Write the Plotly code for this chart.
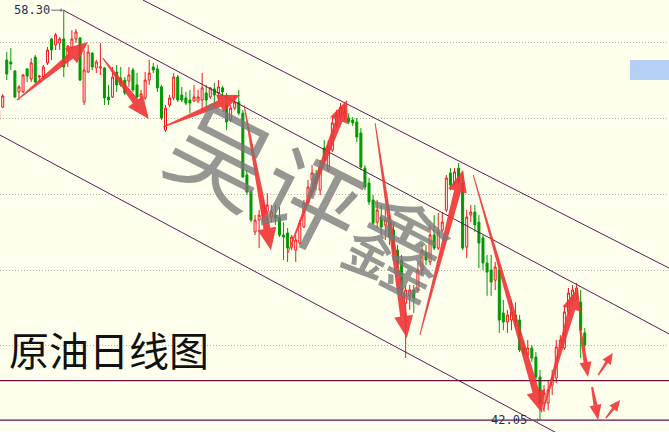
import plotly.graph_objects as go
import math

# ---------------- data (prices, USD) ----------------
opens = [53.95, 54.46, 56.33, 56.25, 55.89, 55.06, 55.06, 55.97, 55.57, 56.44,
         55.65, 55.65, 56.21, 57.16, 56.92, 57.00, 57.16, 56.44, 56.80, 57.16,
         57.20, 54.66, 55.85, 56.60, 56.01, 56.01, 56.01, 54.86, 54.86, 55.85,
         55.61, 55.53, 55.49, 55.93, 55.34, 54.86, 54.82, 55.53, 56.05, 55.97,
         55.26, 53.55, 54.54, 54.82, 55.65, 54.94, 54.82, 54.74, 54.70, 54.70,
         54.74, 55.02, 54.86, 55.18, 55.02, 55.22, 54.54, 53.95, 54.42, 54.66,
         54.22, 51.77, 51.09, 49.51, 49.98, 50.18, 50.30, 50.10, 50.18, 50.10,
         49.39, 49.47, 48.91, 48.79, 49.07, 49.71, 50.66, 51.57, 51.69, 51.17,
         52.84, 51.97, 52.76, 53.75, 54.07, 54.14, 54.03, 53.95, 53.87, 53.43,
         52.04, 51.45, 50.78, 49.90, 50.06, 49.79, 49.90, 49.59, 48.79, 48.40,
         46.69, 46.98, 47.21, 47.21, 48.00, 48.68, 48.32, 49.39, 48.87, 49.59,
         50.38, 51.85, 51.45, 52.04, 51.45, 48.91, 50.18, 50.30, 49.90, 49.27,
         48.28, 48.00, 47.60, 48.00, 46.30, 45.94, 46.02, 46.22, 46.02, 44.95,
         44.63, 44.91, 44.55, 43.76, 42.73, 42.73, 43.44, 43.72, 44.91, 44.91,
         46.34, 46.81, 47.01, 46.73, 45.51]
highs = [54.50, 54.98, 56.64, 56.80, 55.93, 55.34, 55.77, 56.01, 56.40, 56.52,
         55.73, 56.13, 56.84, 57.20, 57.40, 57.24, 58.30, 56.92, 57.51, 57.55,
         57.24, 56.72, 56.92, 56.64, 56.33, 57.00, 56.05, 55.34, 56.05, 56.13,
         56.05, 55.65, 56.05, 56.01, 55.81, 55.14, 55.85, 56.33, 56.21, 56.13,
         55.34, 54.54, 54.94, 55.81, 55.73, 55.26, 55.06, 55.14, 55.34, 55.14,
         55.81, 55.34, 55.26, 55.41, 55.53, 55.30, 55.02, 54.54, 54.94, 55.14,
         54.34, 51.97, 51.17, 50.18, 50.38, 50.78, 51.05, 50.58, 50.58, 50.50,
         49.90, 49.67, 49.39, 49.39, 49.98, 50.78, 51.57, 52.16, 51.97, 52.36,
         53.15, 53.15, 54.07, 54.34, 54.62, 54.54, 54.22, 54.07, 54.03, 53.63,
         52.16, 51.65, 50.97, 50.78, 50.58, 50.38, 50.18, 49.90, 48.99, 48.60,
         47.41, 47.41, 47.41, 48.32, 48.99, 48.99, 49.79, 50.18, 50.26, 50.30,
         51.77, 52.04, 52.04, 52.24, 51.89, 50.38, 50.58, 50.58, 50.18, 49.39,
         48.60, 48.60, 48.32, 48.20, 46.81, 46.42, 46.81, 46.73, 46.22, 45.23,
         45.23, 45.03, 44.75, 44.04, 43.44, 43.64, 44.04, 45.23, 45.42, 46.61,
         47.29, 47.41, 47.49, 47.21, 45.70]
lows = [53.80, 54.42, 55.53, 55.93, 54.82, 54.74, 55.02, 55.45, 55.45, 55.41,
        55.45, 55.61, 56.13, 56.33, 56.72, 56.72, 55.65, 56.05, 56.72, 57.00,
        55.49, 54.54, 55.81, 55.93, 55.81, 55.73, 54.54, 54.54, 54.82, 55.06,
        55.26, 54.94, 55.26, 55.06, 54.82, 54.78, 54.74, 55.34, 55.81, 55.06,
        53.95, 53.47, 54.46, 54.74, 54.66, 54.66, 54.54, 54.22, 54.66, 54.62,
        54.26, 54.46, 54.78, 54.46, 54.66, 54.86, 53.55, 53.87, 54.34, 54.14,
        51.65, 50.97, 49.90, 49.39, 48.87, 50.06, 50.18, 49.90, 49.79, 49.31,
        48.40, 48.32, 48.79, 48.32, 48.99, 49.67, 50.58, 51.37, 51.17, 50.97,
        52.16, 51.89, 52.68, 53.63, 53.95, 53.95, 53.79, 53.71, 53.07, 51.97,
        51.17, 50.58, 49.79, 49.67, 49.39, 49.19, 48.99, 48.60, 48.08, 47.01,
        44.51, 46.42, 46.30, 47.09, 47.80, 48.20, 48.20, 48.79, 48.79, 49.51,
        50.30, 51.17, 51.37, 51.37, 48.79, 48.48, 49.90, 49.51, 48.08, 48.00,
        46.98, 46.98, 47.21, 45.51, 45.62, 45.51, 45.62, 45.70, 44.75, 44.59,
        44.51, 44.36, 43.56, 42.05, 42.38, 42.45, 43.05, 43.52, 44.83, 44.83,
        46.22, 46.61, 46.81, 44.51, 44.83]
closes = [54.34, 54.90, 55.77, 56.17, 54.86, 55.26, 55.73, 55.69, 56.21, 55.45,
          55.69, 56.05, 56.72, 56.72, 57.32, 57.16, 56.05, 56.88, 57.16, 57.44,
          55.53, 55.93, 56.64, 56.05, 56.25, 56.05, 54.82, 54.74, 55.65, 55.34,
          55.34, 55.02, 55.73, 55.14, 54.86, 54.98, 55.53, 55.81, 55.93, 55.22,
          54.03, 54.42, 54.82, 55.65, 54.74, 54.74, 54.62, 54.62, 54.86, 54.86,
          55.22, 54.74, 55.22, 54.94, 55.26, 55.06, 53.87, 54.42, 54.66, 54.22,
          51.69, 51.09, 49.98, 49.98, 50.18, 50.58, 50.58, 50.30, 50.06, 49.39,
          49.31, 48.87, 49.31, 49.19, 49.86, 50.66, 51.29, 51.85, 51.45, 52.08,
          52.36, 52.88, 53.83, 54.14, 54.46, 54.26, 53.87, 53.83, 53.27, 52.08,
          51.29, 50.70, 49.86, 50.38, 49.71, 49.98, 49.31, 48.79, 48.28, 47.21,
          47.21, 47.21, 46.89, 48.00, 48.79, 48.40, 49.39, 48.87, 49.51, 49.90,
          51.65, 51.37, 51.89, 51.49, 48.87, 50.10, 50.30, 49.79, 49.07, 48.28,
          47.92, 47.53, 48.12, 46.02, 45.94, 46.22, 46.34, 45.94, 44.83, 44.71,
          44.91, 44.51, 43.76, 42.73, 43.13, 43.25, 43.72, 44.95, 45.23, 46.34,
          47.09, 47.21, 47.29, 45.62, 45.03]
days = list(range(len(closes)))

high_label = "58.30"
low_label = "42.05"
grid_levels = [45, 48, 51, 54, 57]
support_levels = [43.62, 42.05]

# channel lines: (day, price) endpoints
channels = [((35.47, 58.70), (164.7, 48.08)),
            ((15.9, 58.30), (164.7, 45.47)),
            ((0.34, 53.35), (164.7, 39.16))]

# hand-drawn trend arrows: start (day, price) -> tip (day, price), size class
arrows = [((4.5, 54.74), (21.96, 57.04), "big"),
          ((25.6, 56.40), (36.9, 53.99), "big"),
          ((40.4, 53.67), (59.3, 54.94), "big"),
          ((60.3, 54.54), (66.9, 48.79), "big"),
          ((71.1, 48.68), (85.6, 54.74), "big"),
          ((92.5, 53.83), (100.3, 45.31), "big"),
          ((103.5, 45.43), (114.1, 51.97), "big"),
          ((116.6, 51.77), (133.5, 42.34), "big"),
          ((133.8, 42.45), (142.3, 47.29), "big"),
          ((142.8, 45.74), (144.8, 43.76), "mid"),
          ((147.3, 43.84), (150.9, 44.71), "small"),
          ((145.8, 43.37), (147.3, 42.06), "mid"),
          ((149.2, 42.14), (152.7, 42.85), "small")]

# ---------------- layout constants ----------------
W, H = 669, 432
X0, X1 = 0.337, 164.7
Y0, Y1 = 41.582, 58.704
BG = "#FFFFEE"
RED = "#F01818"
GREEN = "#009A00"

fig = go.Figure()
fig.add_trace(go.Candlestick(
    x=days, open=opens, high=highs, low=lows, close=closes,
    increasing=dict(line=dict(color=RED, width=1), fillcolor=BG),
    decreasing=dict(line=dict(color=GREEN, width=1), fillcolor=GREEN),
    whiskerwidth=0, showlegend=False, hoverinfo="skip"))

shapes = []
for (a, b) in channels:
    shapes.append(dict(type="line", xref="x", yref="y", x0=a[0], y0=a[1], x1=b[0], y1=b[1],
                       line=dict(color="#5A1A5A", width=1), layer="above"))
for lv in support_levels:
    shapes.append(dict(type="line", xref="paper", yref="y", x0=0, x1=1, y0=lv, y1=lv,
                       line=dict(color="#6A1040", width=1.2), layer="above"))


def to_px(d, p):
    return (d - X0) / (X1 - X0) * W, (Y1 - p) / (Y1 - Y0) * H


sizes = {"big": (1.0, 7.0, 19.0, 22.0), "mid": (2.0, 4.0, 12.0, 15.0), "small": (1.5, 3.0, 10.0, 11.0)}
for (s, t, kind) in arrows:
    w0, w1, hw, hl = sizes[kind]
    x0, y0 = to_px(*s)
    x1, y1 = to_px(*t)
    L = math.hypot(x1 - x0, y1 - y0)
    ux, uy = (x1 - x0) / L, (y1 - y0) / L
    nx, ny = -uy, ux
    bx, by = x1 - ux * hl, y1 - uy * hl
    pts = [(x0 + nx * w0 / 2, y0 + ny * w0 / 2), (bx + nx * w1 / 2, by + ny * w1 / 2),
           (bx + nx * hw / 2, by + ny * hw / 2), (x1, y1),
           (bx - nx * hw / 2, by - ny * hw / 2), (bx - nx * w1 / 2, by - ny * w1 / 2),
           (x0 - nx * w0 / 2, y0 - ny * w0 / 2)]
    path = "M " + " L ".join(f"{px / W:.5f},{1 - py / H:.5f}" for px, py in pts) + " Z"
    shapes.append(dict(type="path", xref="paper", yref="paper", path=path,
                       fillcolor="rgba(240,52,52,0.9)", line=dict(width=0), layer="above"))

# small blurred blue box at the right edge
shapes.append(dict(type="rect", xref="paper", yref="paper", x0=630 / W, x1=1,
                   y0=1 - 80 / H, y1=1 - 60 / H, fillcolor="#B6CFF7", line=dict(width=0)))

annotations = [
    dict(x=days[16], y=highs[16], xref="x", yref="y", text=high_label, showarrow=True,
         ax=-32, ay=0, arrowhead=1, arrowsize=0.7, arrowwidth=1, arrowcolor="#666677",
         standoff=1, font=dict(family="DejaVu Sans Mono", size=12, color="#223355")),
    dict(x=days[133], y=lows[133], xref="x", yref="y", text=low_label, showarrow=True,
         ax=-31, ay=0, arrowhead=1, arrowsize=0.7, arrowwidth=1, arrowcolor="#666677",
         standoff=1, font=dict(family="DejaVu Sans Mono", size=12, color="#223355")),
    dict(x=7 / W, y=1 - 349 / H, xref="paper", yref="paper", text="原油日线图",
         showarrow=False, xanchor="left", yanchor="middle",
         font=dict(family="Noto Sans CJK SC", size=40, color="#111111")),
    dict(x=313 / W, y=1 - 196 / H, xref="paper", yref="paper", text="吴评鑫",
         showarrow=False, textangle=27, xanchor="center", yanchor="middle",
         font=dict(family="Noto Sans CJK SC", size=100, color="rgba(120,120,120,0.78)")),
]

fig.update_layout(
    width=W, height=H, margin=dict(l=0, r=0, t=0, b=0),
    paper_bgcolor=BG, plot_bgcolor=BG, showlegend=False,
    shapes=shapes, annotations=annotations,
    xaxis=dict(range=[X0, X1], visible=False, rangeslider=dict(visible=False), fixedrange=True),
    yaxis=dict(range=[Y0, Y1], tickvals=grid_levels, showticklabels=False, showgrid=True,
               gridcolor="#B4B4AA", griddash="1px,2px", gridwidth=1, zeroline=False,
               showline=False, ticks="", fixedrange=True),
)

fig.write_html("out.html", config={"displayModeBar": False},
               post_script="document.body.style.margin='0';document.body.style.overflow='hidden';")
